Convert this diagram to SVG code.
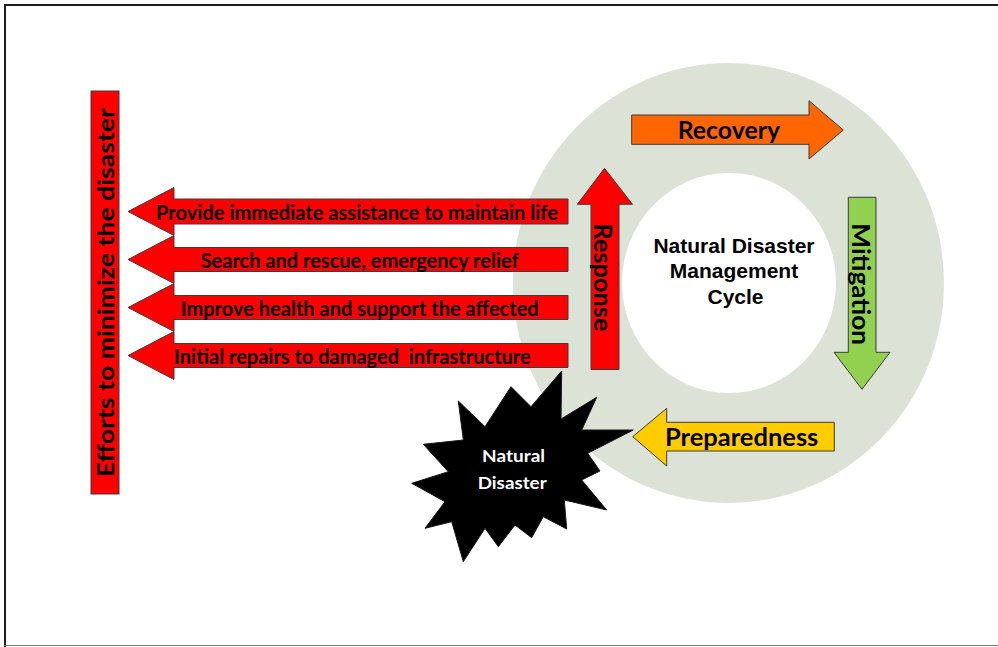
<svg xmlns="http://www.w3.org/2000/svg" width="998" height="647" viewBox="0 0 998 647">
  <defs>
    <style>
      .arrow { stroke: #3c3c3c; stroke-width: 1; stroke-linejoin: miter; }
      .red { fill: #ff0000; }
      .lbl { font-family: Lato, "Open Sans", "Liberation Sans", sans-serif; font-weight: bold; fill: #000; }
      .act { font-size: 20px; }
      .phase { font-size: 24px; }
      .center { font-family: "Liberation Sans", Arial, sans-serif; font-weight: bold; font-size: 21px; fill: #000; text-anchor: middle; }
    </style>
  </defs>

  <!-- page frame -->
  <rect x="0" y="0" width="998" height="647" fill="#ffffff"/>
  <line x1="4" y1="5" x2="998" y2="5" stroke="#1e1e1e" stroke-width="2"/>
  <line x1="5" y1="4" x2="5" y2="647" stroke="#1e1e1e" stroke-width="2"/>
  <line x1="4" y1="645.5" x2="998" y2="645.5" stroke="#7a7a7a" stroke-width="1"/>

  <!-- cycle ring -->
  <g id="cycle-ring">
    <ellipse cx="728.5" cy="283" rx="215.5" ry="220" fill="#dce2d5"/>
    <ellipse cx="729" cy="283" rx="107" ry="110" fill="#ffffff"/>
  </g>

  <!-- goal bar -->
  <g id="efforts-bar">
    <rect x="91" y="91" width="28" height="403" class="arrow red"/>
    <text class="lbl" font-size="22" transform="translate(114,292.5) rotate(-90)" text-anchor="middle" textLength="369" lengthAdjust="spacingAndGlyphs">Efforts to minimize the disaster</text>
  </g>

  <!-- response actions -->
  <g id="action-assistance">
    <polygon class="arrow red" points="128,211.5 174,187.5 174,199 568,199 568,224 174,224 174,235.5"/>
    <text class="lbl act" x="156" y="219.5" textLength="402" lengthAdjust="spacingAndGlyphs">Provide immediate assistance to maintain life</text>
  </g>
  <g id="action-rescue">
    <polygon class="arrow red" points="128,259.5 174,235.5 174,247.5 568,247.5 568,271.5 174,271.5 174,283.5"/>
    <text class="lbl act" x="200.7" y="267.5" textLength="318" lengthAdjust="spacingAndGlyphs">Search and rescue, emergency relief</text>
  </g>
  <g id="action-health">
    <polygon class="arrow red" points="128,307.5 174,283.5 174,295.5 568,295.5 568,319.5 174,319.5 174,331.5"/>
    <text class="lbl act" x="180.7" y="315.7" textLength="358" lengthAdjust="spacingAndGlyphs">Improve health and support the affected</text>
  </g>
  <g id="action-repairs">
    <polygon class="arrow red" points="128,355.5 174,331.5 174,343.5 568,343.5 568,367.5 174,367.5 174,379.5"/>
    <text class="lbl act" x="174" y="363.5" textLength="356.7" lengthAdjust="spacingAndGlyphs" xml:space="preserve">Initial repairs to damaged  infrastructure</text>
  </g>

  <!-- disaster event -->
  <g id="natural-disaster">
    <polygon fill="#000000" stroke="#1a1a1a" stroke-width="1" points="458.3,401 485,426.7 511,386.7 531,406.7 561.7,371 561,419 596.7,397.3 581.7,430 633.3,430 587.7,453.3 600,471 581.7,480 606.7,510 564.3,500 566.7,529 543.3,516.7 531.7,537.7 515,525 498.3,546.7 485,528.3 463.3,561.7 451.7,521.7 425,528.3 445,501.7 411.7,483.3 448.3,471.7 423.3,444.3 463.3,440"/>
    <text class="lbl" font-size="17" fill="#ffffff" style="fill:#fff" x="513.5" y="462.3" text-anchor="middle" textLength="63" lengthAdjust="spacingAndGlyphs">Natural</text>
    <text class="lbl" font-size="17" style="fill:#fff" x="512.2" y="489" text-anchor="middle" textLength="69" lengthAdjust="spacingAndGlyphs">Disaster</text>
  </g>

  <!-- cycle phases -->
  <g id="phase-response">
    <polygon class="arrow red" points="604.5,168.3 632.5,204.3 619,204.3 619,369.5 591,369.5 591,204.3 577.3,204.3"/>
    <text class="lbl phase" transform="translate(593.5,277.5) rotate(90)" text-anchor="middle" textLength="108" lengthAdjust="spacingAndGlyphs">Response</text>
  </g>
  <g id="phase-recovery">
    <polygon class="arrow" fill="#ff6600" points="631.7,115 809,115 809,100.7 843.3,130 809,159 809,144.3 631.7,144.3"/>
    <text class="lbl phase" x="677.7" y="139.3" textLength="102.3" lengthAdjust="spacingAndGlyphs">Recovery</text>
  </g>
  <g id="phase-mitigation">
    <polygon class="arrow" fill="#92d050" points="848.3,197.3 876,197.3 876,352.3 890,352.3 862,389.3 834,352.3 848.3,352.3"/>
    <text class="lbl phase" transform="translate(851.7,284.2) rotate(90)" text-anchor="middle" textLength="121.7" lengthAdjust="spacingAndGlyphs">Mitigation</text>
  </g>
  <g id="phase-preparedness">
    <polygon class="arrow" fill="#ffcc00" points="632.7,436.7 666.7,408.3 666.7,422.3 834.3,422.3 834.3,451 666.7,451 666.7,466"/>
    <text class="lbl phase" x="665" y="446" textLength="153.3" lengthAdjust="spacingAndGlyphs">Preparedness</text>
  </g>

  <!-- cycle title -->
  <g id="cycle-title">
    <text class="center" x="734" y="252.7">Natural Disaster</text>
    <text class="center" x="734" y="278.3">Management</text>
    <text class="center" x="735.5" y="304">Cycle</text>
  </g>
</svg>
